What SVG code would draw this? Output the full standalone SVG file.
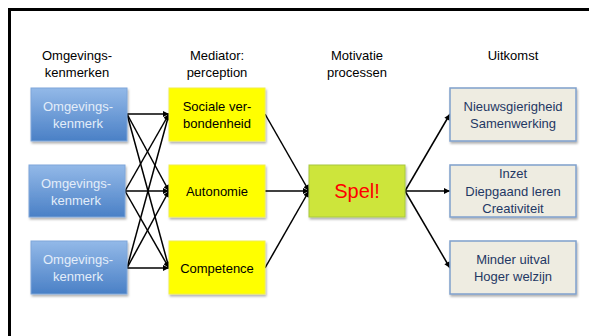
<svg xmlns="http://www.w3.org/2000/svg" width="589" height="336" viewBox="0 0 589 336">
<defs>
<linearGradient id="blueGrad" x1="0" y1="0" x2="0" y2="1">
<stop offset="0" stop-color="#93b9e8"/>
<stop offset="1" stop-color="#4a80c6"/>
</linearGradient>
<filter id="shadow" x="-10%" y="-10%" width="125%" height="130%">
<feDropShadow dx="1" dy="2" stdDeviation="1.2" flood-color="#000" flood-opacity="0.3"/>
</filter>
<marker id="arrow" viewBox="0 0 10 10" refX="10" refY="5" markerWidth="8" markerHeight="6" markerUnits="userSpaceOnUse" orient="auto">
<path d="M0,0 L10,5 L0,10 z" fill="#000"/>
</marker>
<style>
text { font-family: "Liberation Sans", Arial, sans-serif; font-size: 13px; text-anchor: middle; }
.hdr { fill: #000; }
.blue rect { fill: url(#blueGrad); stroke: #7ea6d9; stroke-width: 1; filter: url(#shadow); }
.blue text { fill: #e3edf9; }
.yellow rect { fill: #ffff00; stroke: #f0ee50; stroke-width: 1; filter: url(#shadow); }
.yellow text { fill: #000; }
.spel rect { fill: #cde53b; stroke: #a8c840; stroke-width: 1; filter: url(#shadow); }
.spel text { fill: #ff0000; font-size: 20px; }
.out rect { fill: #eeece1; stroke: #7fa0cc; stroke-width: 1.5; filter: url(#shadow); }
.out text { fill: #1f3864; }
#connectors line { stroke: #000; stroke-width: 1.5; marker-end: url(#arrow); }
</style>
</defs>
<rect x="9.5" y="9.5" width="620" height="400" fill="#fff" stroke="#000" stroke-width="3"/>

<g id="headers" class="hdr">
<text x="77" y="60">Omgevings-</text>
<text x="77" y="77">kenmerken</text>
<text x="217" y="60">Mediator:</text>
<text x="217" y="77">perception</text>
<text x="357" y="60">Motivatie</text>
<text x="357" y="77">processen</text>
<text x="513" y="60">Uitkomst</text>
</g>

<g id="connectors">
<line x1="127" y1="114" x2="169" y2="114"/>
<line x1="127" y1="114" x2="169" y2="191"/>
<line x1="127" y1="114" x2="169" y2="268"/>
<line x1="125" y1="191" x2="169" y2="114"/>
<line x1="125" y1="191" x2="169" y2="191"/>
<line x1="125" y1="191" x2="169" y2="268"/>
<line x1="127" y1="268" x2="169" y2="114"/>
<line x1="127" y1="268" x2="169" y2="191"/>
<line x1="127" y1="268" x2="169" y2="268"/>
<line x1="265" y1="114" x2="309" y2="191"/>
<line x1="265" y1="191" x2="309" y2="191"/>
<line x1="265" y1="268" x2="309" y2="191"/>
<line x1="405" y1="191" x2="450" y2="114"/>
<line x1="405" y1="191" x2="450" y2="191"/>
<line x1="405" y1="191" x2="450" y2="268"/>
</g>

<g id="env1" class="blue">
<rect x="31" y="88" width="96" height="53"/>
<text x="78" y="111">Omgevings-</text>
<text x="78" y="128">kenmerk</text>
</g>
<g id="env2" class="blue">
<rect x="29" y="165" width="96" height="52"/>
<text x="76" y="188">Omgevings-</text>
<text x="76" y="205">kenmerk</text>
</g>
<g id="env3" class="blue">
<rect x="31" y="241" width="96" height="53"/>
<text x="78" y="264">Omgevings-</text>
<text x="78" y="281">kenmerk</text>
</g>

<g id="med1" class="yellow">
<rect x="169" y="88" width="96" height="53"/>
<text x="217" y="111">Sociale ver-</text>
<text x="217" y="128">bondenheid</text>
</g>
<g id="med2" class="yellow">
<rect x="169" y="165" width="96" height="52"/>
<text x="217" y="196">Autonomie</text>
</g>
<g id="med3" class="yellow">
<rect x="169" y="241" width="96" height="53"/>
<text x="217" y="273">Competence</text>
</g>

<g id="spel" class="spel">
<rect x="309" y="165" width="96" height="52"/>
<text x="357" y="198">Spel!</text>
</g>

<g id="out1" class="out">
<rect x="450" y="88" width="126" height="53"/>
<text x="513" y="111">Nieuwsgierigheid</text>
<text x="513" y="128">Samenwerking</text>
</g>
<g id="out2" class="out">
<rect x="450" y="165" width="126" height="52"/>
<text x="513" y="178">Inzet</text>
<text x="513" y="196">Diepgaand leren</text>
<text x="513" y="213">Creativiteit</text>
</g>
<g id="out3" class="out">
<rect x="450" y="241" width="126" height="53"/>
<text x="513" y="264">Minder uitval</text>
<text x="513" y="281">Hoger welzijn</text>
</g>
</svg>
